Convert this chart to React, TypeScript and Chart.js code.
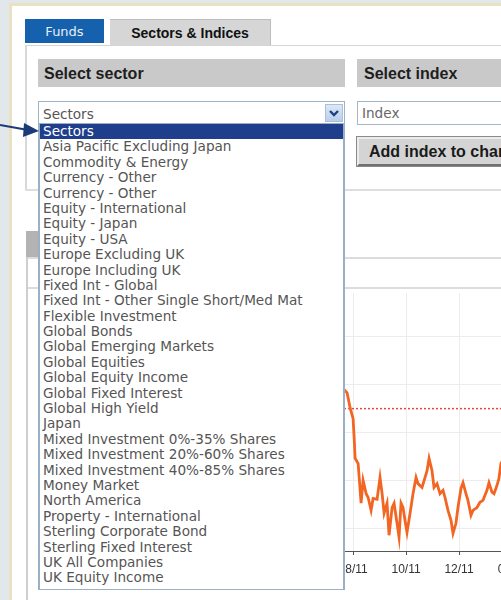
import React, { useEffect, useRef } from "react";
import { Chart, registerables } from "chart.js";

Chart.register(...registerables);

// ---- Data -------------------------------------------------------------
const SECTORS: string[] = [
  "Sectors",
  "Asia Pacific Excluding Japan",
  "Commodity & Energy",
  "Currency - Other",
  "Currency - Other",
  "Equity - International",
  "Equity - Japan",
  "Equity - USA",
  "Europe Excluding UK",
  "Europe Including UK",
  "Fixed Int - Global",
  "Fixed Int - Other Single Short/Med Mat",
  "Flexible Investment",
  "Global Bonds",
  "Global Emerging Markets",
  "Global Equities",
  "Global Equity Income",
  "Global Fixed Interest",
  "Global High Yield",
  "Japan",
  "Mixed Investment 0%-35% Shares",
  "Mixed Investment 20%-60% Shares",
  "Mixed Investment 40%-85% Shares",
  "Money Market",
  "North America",
  "Property - International",
  "Sterling Corporate Bond",
  "Sterling Fixed Interest",
  "UK All Companies",
  "UK Equity Income",
];

// days since 1 Aug 2011
const DAYS: number[] = [
  -20, -11.5, -6.9, -3.5, 0, 1.2, 2.3, 5.8, 9.2, 11.5, 15, 17.3, 20.7, 23, 27.6,
  31, 33.4, 35.7, 39.1, 41.4, 44.9, 47.2, 50.6, 52.9, 55.2, 57.5, 59.8, 62.1,
  65.6, 69, 72.5, 74.8, 79.4, 82.9, 85.2, 87.5, 90.9, 93.2, 96.7, 100.1, 103.6,
  105.9, 109.3, 112.8, 115.1, 118.5, 120.8, 124.3, 126.6, 130, 132.3, 135.8,
  138.1, 142.7, 146.1, 149.6, 154.2, 156.5, 160, 162.3, 165.7, 168, 170.3, 175,
];
const VALUES: number[] = [
  99.4, 99.2, 98.3, 95.2, 92.9, 88.9, 84.6, 83.5, 75.2, 80.0, 77.2, 76.4, 73.7,
  76.2, 76.0, 80.6, 77.2, 73.1, 75.2, 68.5, 74.3, 75.2, 71.0, 68.1, 75.2, 74.3,
  71.6, 69.1, 73.1, 77.2, 80.6, 79.3, 78.5, 80.6, 82.0, 84.6, 82.0, 78.5, 79.3,
  77.2, 77.9, 76.4, 73.7, 71.6, 68.9, 71.0, 74.3, 78.3, 79.5, 77.2, 75.8, 72.7,
  73.7, 74.3, 75.4, 75.8, 77.9, 79.5, 77.5, 77.2, 78.9, 80.4, 83.5, 85.0,
];
const X_TICKS: number[] = [0, 61, 122, 184];
const X_TICK_LABELS: string[] = ["08/11", "10/11", "12/11", "02/12"];
const Y_TICKS: number[] = [70, 80, 90, 100, 110];
const REFERENCE_LEVEL = 95;
const X_MIN = -181;
const X_MAX = 213;
const Y_MIN = 65.2;
const Y_MAX = 119.2;

// ---- Chart ------------------------------------------------------------
function PerfChart() {
  const ref = useRef<HTMLCanvasElement | null>(null);
  useEffect(() => {
    if (!ref.current) return;
    const chart = new Chart(ref.current, {
      type: "line",
      data: {
        datasets: [
          {
            data: DAYS.map((d, i) => ({ x: d, y: VALUES[i] })),
            borderColor: "#f26522",
            borderWidth: 2.8,
            pointRadius: 0,
            tension: 0,
            order: 0,
          },
          {
            data: [
              { x: X_MIN, y: REFERENCE_LEVEL },
              { x: X_MAX, y: REFERENCE_LEVEL },
            ],
            borderColor: "#e5474b",
            borderWidth: 1.5,
            borderDash: [2, 2],
            pointRadius: 0,
            order: 1,
          },
        ],
      },
      options: {
        animation: false,
        responsive: true,
        maintainAspectRatio: false,
        layout: { padding: { left: 6, top: 4, right: 12, bottom: 0 } },
        plugins: { legend: { display: false }, tooltip: { enabled: false } },
        scales: {
          x: {
            type: "linear",
            min: X_MIN,
            max: X_MAX,
            afterBuildTicks: (s: any) => {
              s.ticks = X_TICKS.map((v) => ({ value: v }));
            },
            afterFit: (s: any) => {
              s.height = 38;
            },
            ticks: {
              autoSkip: false,
              maxRotation: 0,
              padding: 7,
              color: "#333",
              font: { family: "'Liberation Sans', Arial, sans-serif", size: 12 },
              callback: (v: any) => {
                const i = X_TICKS.indexOf(Number(v));
                return i >= 0 ? X_TICK_LABELS[i] : "";
              },
            },
            grid: { color: "#ececec", tickLength: 4, tickColor: "#555" },
            border: { color: "#555", width: 1 },
          },
          y: {
            min: Y_MIN,
            max: Y_MAX,
            afterBuildTicks: (s: any) => {
              s.ticks = Y_TICKS.map((v) => ({ value: v }));
            },
            afterFit: (s: any) => {
              s.width = 0;
            },
            ticks: { display: false },
            grid: { color: "#ececec", drawTicks: false },
            border: { display: false },
          },
        },
      },
    });
    return () => chart.destroy();
  }, []);
  return (
    <div style={{ position: "absolute", left: 190, top: 289, width: 360, height: 300 }}>
      <canvas ref={ref} />
    </div>
  );
}

// ---- Page -------------------------------------------------------------
const LIST_FONT = "'DejaVu Sans', Verdana, sans-serif";
const BOLD_FONT = "'Liberation Sans', Arial, sans-serif";

export default function App() {
  const abs = (s: React.CSSProperties): React.CSSProperties => ({ position: "absolute", ...s });
  return (
    <div
      style={{
        position: "fixed",
        left: 0,
        top: 0,
        width: 501,
        height: 600,
        overflow: "hidden",
        background: "#e1e7ea",
      }}
    >
      {/* white frame with beige border */}
      <div
        style={abs({
          left: 9,
          top: 3,
          width: 520,
          height: 620,
          background: "#ffffff",
          borderLeft: "3px solid #e8e2c2",
          borderTop: "3px solid #e8e2c2",
        })}
      />

      {/* tabs */}
      <div
        style={abs({
          left: 25,
          top: 19,
          width: 79,
          height: 24,
          background: "#1561ad",
          color: "#e8eef8",
          font: `13px ${LIST_FONT}`,
          lineHeight: "26px",
          textAlign: "center",
        })}
      >
        Funds
      </div>
      <div
        style={abs({
          left: 110,
          top: 19,
          width: 161,
          height: 27,
          background: "#d6d6d6",
          borderTop: "1px solid #bdbdbd",
          borderRight: "1px solid #bdbdbd",
          boxSizing: "border-box",
          color: "#111",
          font: `bold 14px ${BOLD_FONT}`,
          lineHeight: "27px",
          textAlign: "center",
        })}
      >
        Sectors &amp; Indices
      </div>

      {/* content box borders */}
      <div style={abs({ left: 25, top: 45, width: 500, height: 1, background: "#d4d4d4" })} />
      <div style={abs({ left: 25, top: 45, width: 2, height: 146, background: "#d8d8d8" })} />
      <div style={abs({ left: 25, top: 189, width: 500, height: 2, background: "#dedede" })} />

      {/* headers */}
      <div
        style={abs({
          left: 38,
          top: 59,
          width: 307,
          height: 28,
          background: "#c9c9c9",
          font: `bold 16px ${BOLD_FONT}`,
          color: "#1e1e1e",
          lineHeight: "29px",
          paddingLeft: 6,
          boxSizing: "border-box",
        })}
      >
        Select sector
      </div>
      <div
        style={abs({
          left: 357,
          top: 59,
          width: 160,
          height: 28,
          background: "#c9c9c9",
          font: `bold 16px ${BOLD_FONT}`,
          color: "#1e1e1e",
          lineHeight: "29px",
          paddingLeft: 7,
          boxSizing: "border-box",
        })}
      >
        Select index
      </div>

      {/* select box */}
      <div
        style={abs({
          left: 38,
          top: 101,
          width: 307,
          height: 24,
          background: "#fff",
          border: "1px solid #9fb3c8",
          boxSizing: "border-box",
          font: `13.6px ${LIST_FONT}`,
          color: "#555",
          lineHeight: "24px",
          paddingLeft: 4,
        })}
      >
        Sectors
      </div>
      <div
        style={abs({
          left: 325,
          top: 104,
          width: 18,
          height: 18,
          background: "linear-gradient(#dbe8f6, #b9d0ea)",
          border: "1px solid #aac0da",
          boxSizing: "border-box",
        })}
      >
        <svg width="16" height="16" style={{ position: "absolute", left: 0, top: 0 }}>
          <polyline points="4,6 8,10 12,6" fill="none" stroke="#1f3f86" strokeWidth="2.4" />
        </svg>
      </div>

      {/* index input */}
      <div
        style={abs({
          left: 357,
          top: 101,
          width: 160,
          height: 24,
          background: "#fff",
          border: "1px solid #a7b6c6",
          boxSizing: "border-box",
          font: `13.6px ${LIST_FONT}`,
          color: "#666",
          lineHeight: "23px",
          paddingLeft: 4,
        })}
      >
        Index
      </div>

      {/* button */}
      <div
        style={abs({
          left: 357,
          top: 137,
          width: 170,
          height: 29,
          background: "#d4d4d4",
          borderTop: "2px solid #ececec",
          borderLeft: "2px solid #ececec",
          borderBottom: "2px solid #707070",
          borderRight: "2px solid #707070",
          outline: "1px solid #8a8a8a",
          boxSizing: "border-box",
          font: `bold 16px ${BOLD_FONT}`,
          color: "#1a1a1a",
          lineHeight: "25px",
          paddingLeft: 10,
          whiteSpace: "nowrap",
        })}
      >
        Add index to chart
      </div>

      {/* chart section frame */}
      <div style={abs({ left: 26, top: 231, width: 12, height: 27, background: "#b3b3b3" })} />
      <div style={abs({ left: 26, top: 257, width: 500, height: 2, background: "#dcdcdc" })} />
      <div style={abs({ left: 26, top: 287, width: 500, height: 2, background: "#dcdcdc" })} />
      <div style={abs({ left: 26, top: 257, width: 2, height: 360, background: "#cfcfcf" })} />

      <PerfChart />

      {/* dropdown list */}
      <div
        style={abs({
          left: 38,
          top: 123,
          width: 307,
          height: 467,
          background: "#fff",
          border: "1px solid #9ab0c6",
          borderLeftWidth: 2,
          borderRightWidth: 2,
          boxSizing: "border-box",
          font: `13.6px ${LIST_FONT}`,
          color: "#555",
          paddingTop: 0,
          zIndex: 5,
        })}
      >
        {SECTORS.map((s, i) => (
          <div
            key={i}
            style={{
              height: 15.4,
              lineHeight: "15.4px",
              paddingLeft: 3,
              whiteSpace: "nowrap",
              background: i === 0 ? "#1f3f8c" : "transparent",
              color: i === 0 ? "#ffffff" : "#555",
            }}
          >
            {s}
          </div>
        ))}
      </div>

      {/* arrow */}
      <svg
        width="42"
        height="24"
        style={{ position: "absolute", left: 0, top: 119, zIndex: 6 }}
      >
        <line x1="0" y1="6" x2="28" y2="11" stroke="#1c3a78" strokeWidth="2.2" />
        <polygon points="24,4 39,12 23,18" fill="#1c3a78" />
      </svg>
    </div>
  );
}
